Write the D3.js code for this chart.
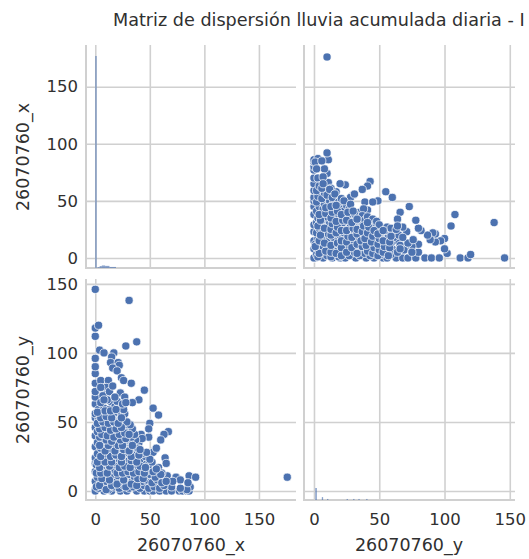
<!DOCTYPE html>
<html><head><meta charset="utf-8">
<script src="https://cdn.jsdelivr.net/npm/d3@7"></script>
<style>html,body{margin:0;padding:0;background:#fff;overflow:hidden}</style>
</head><body><svg id="c" width="529" height="559"></svg>
<script>
const titleText = "Matriz de dispersión lluvia acumulada diaria - I";
const varX = "26070760_x", varY = "26070760_y";
const xTicksA = [0,50,100,150], yTicks = [0,50,100,150];

// x = 0 days: values of y
const zeroXValues = [1,7,14,20,24,32,40,46,53,56,63,68,72,78,85,90,96,112,118,146];
// y = 0 days: values of x
const zeroYValues = [0,8,15,23,29,38,45,50,53,59,65,70,77,80,84,86];
// isolated points [x, y]
const outlierPoints = [[31,138],[3,120],[28,105],[38,108],[4,102],[8,100],[17,100],[15,97],[14,93],[21,93],[22,91],[16,89],[20,87],[24,82],[26,80],[33,78],[5,80],[12,80],[10,75],[45,73],[23,71],[10,70],[27,68],[40,66],[34,64],[15,64],[53,60],[58,55],[50,49],[67,43],[63,41],[42,41],[49,39],[60,37],[40,35],[55,30],[64,24],[65,20],[53,28],[58,17],[66,11],[74,10],[86,11],[92,10],[78,8],[87,3],[176,10],[84,1],[78,2],[70,3],[71,7],[85,6],[61,13],[49,45],[43,38],[56,31]];
// dense cluster [x, y]
const densePoints = [
[3,2],[8,3],[12,1],[17,3],[22,2],[26,4],[31,2],[35,3],[41,2],[45,4],[49,2],[54,3],[59,2],[63,4],[5,6],[10,7],[15,6],[19,8],[24,7],[29,6],[34,8],[38,6],[43,7],[47,8],[52,6],[57,8],[61,6],[65,7],
[2,10],[7,11],[12,10],[17,12],[21,11],[27,10],[31,12],[36,10],[41,12],[46,11],[50,12],[55,10],[60,12],[3,15],[9,14],[14,16],[18,15],[23,14],[28,16],[33,15],[37,14],[42,16],[48,15],[53,14],[56,16],
[1,19],[6,18],[11,20],[16,19],[20,20],[25,18],[30,20],[35,19],[39,18],[44,20],[49,19],[52,21],[4,23],[8,24],[13,22],[18,24],[22,23],[27,24],[31,22],[36,24],[41,23],[46,25],[50,23],[2,27],[7,28],[11,26],[16,28],[21,27],[25,26],[29,28],[34,27],[38,29],[43,27],[47,28],
[5,31],[10,32],[14,30],[19,32],[23,31],[28,33],[32,30],[36,32],[39,31],[2,35],[7,36],[12,35],[17,34],[21,36],[26,35],[30,37],[34,35],[37,37],[4,39],[9,40],[14,38],[19,41],[24,39],[29,40],[33,39],[36,41],
[2,43],[7,44],[12,42],[16,45],[21,43],[26,44],[30,43],[34,45],[5,47],[10,48],[15,47],[19,49],[23,47],[28,48],[32,48],[3,51],[8,52],[13,51],[18,53],[22,51],[26,52],[29,50],[6,55],[11,56],[16,55],[20,57],[24,55],[27,56],[3,59],[8,60],[13,59],[18,61],[22,60],[26,59],[5,64],[11,66],[20,65],[25,63],[7,69],[13,72],[18,68],[28,64],[5,75],[8,66],[16,76],
[1,3],[4,4],[10,1],[15,4],[20,5],[28,3],[33,5],[38,4],[6,9],[13,8],[26,8],[39,9],[44,9],[1,13],[5,13],[11,13],[20,13],[25,13],[30,14],[35,13],[40,14],[45,13],[4,17],[13,18],[22,17],[27,18],[32,17],[41,18],[46,17],[2,21],[9,21],[15,21],[24,21],[33,22],[38,21],[5,25],[14,25],[19,26],[24,25],[33,25],[40,26],[9,29],[18,29],[26,30],[31,29],[41,30],[4,33],[12,33],[21,33],[25,33],[34,33],[10,37],[15,36],[23,37],[28,38],[6,41],[11,40],[17,39],[22,41],[27,42],[31,41],[4,45],[9,46],[14,44],[19,45],[24,46],[2,49],[7,50],[12,49],[17,50],[21,49],[5,53],[10,54],[15,53],[24,53],[2,57],[9,58],[14,58],[19,59]
];
const histXBins = [[0,1.3,1000],[2,4,4],[4,6,9],[6,9,12],[9,13,10],[13,19,5]];
const histYBins = [[1,2.2,58],[6,7,14],[10,11,5],[25,26,5],[30,31,5],[34,35,5],[40,41,5]];

const points = [
  ...zeroXValues.map(y=>[0,y]),
  ...zeroYValues.map(x=>[x,0]),
  ...outlierPoints, ...densePoints
];

const svg = d3.select("#c");
const colW = [[86,296],[304,515]], rowH = [[45,268],[279,500]];
const axisText = "#303030", gridColor = "#d0d0d0", markColor = "#4c72b0";
const font = "'DejaVu Sans',sans-serif";

const xScaleA = d3.scaleLinear().domain([-8.5,184]).range(colW[0]);   // column 1: x
const xScaleB = d3.scaleLinear().domain([-7.65,154]).range(colW[1]);  // column 2: y
const yScaleA = d3.scaleLinear().domain([-8.8,186.5]).range([rowH[0][1],rowH[0][0]]); // row 1: x
const yScaleB = d3.scaleLinear().domain([-6.5,153.5]).range([rowH[1][1],rowH[1][0]]); // row 2: y
const histScaleX = d3.scaleLinear().domain([0,1000]).range([268,56]);
const histScaleY = d3.scaleLinear().domain([0,58]).range([500,488]);

function panel(xs, ys, c, r){
  const g = svg.append("g");
  const [x0,x1]=colW[c], [y0,y1]=rowH[r];
  const gx = g.append("g").attr("transform",`translate(0,${y1})`)
    .call(d3.axisBottom(xs).tickValues(xTicksA).tickSize(-(y1-y0)).tickPadding(r===1?13:0).tickFormat(r===1?d3.format("d"):""));
  const gy = g.append("g").attr("transform",`translate(${x0},0)`)
    .call(d3.axisLeft(ys).tickValues(yTicks).tickSize(-(x1-x0)).tickPadding(14).tickFormat(c===0?d3.format("d"):""));
  [gx,gy].forEach(a=>{
    a.selectAll(".tick line").attr("stroke",gridColor).attr("stroke-width",1.6);
    a.selectAll(".tick text").attr("fill",axisText).attr("font-family",font).attr("font-size",16.5);
    a.select(".domain").remove();
  });
  gy.selectAll(".tick text").attr("x",-6-2);
  gy.selectAll(".tick line").attr("x1",0).attr("x2",x1-x0);
  g.append("line").attr("x1",x0).attr("x2",x0).attr("y1",y0).attr("y2",y1+1).attr("stroke",gridColor).attr("stroke-width",2);
  g.append("line").attr("x1",x0).attr("x2",x1).attr("y1",y1).attr("y2",y1).attr("stroke",gridColor).attr("stroke-width",2);
  return g;
}

panel(xScaleA,yScaleA,0,0).selectAll("rect.h").data(histXBins).join("rect").attr("class","h")
  .attr("x",d=>xScaleA(d[0])).attr("width",d=>xScaleA(d[1])-xScaleA(d[0]))
  .attr("y",d=>histScaleX(d[2])).attr("height",d=>268-histScaleX(d[2]))
  .attr("fill",markColor).attr("fill-opacity",.65);

function scatter(g,xf,yf){
  g.selectAll("circle").data(points).join("circle")
   .attr("cx",xf).attr("cy",yf).attr("r",4.1)
   .attr("fill",markColor).attr("stroke","#fff").attr("stroke-width",.9).attr("stroke-opacity",.8);
}
scatter(panel(xScaleB,yScaleA,1,0), d=>xScaleB(d[1]), d=>yScaleA(d[0]));
scatter(panel(xScaleA,yScaleB,0,1), d=>xScaleA(d[0]), d=>yScaleB(d[1]));

panel(xScaleB,yScaleB,1,1).selectAll("rect.h").data(histYBins).join("rect").attr("class","h")
  .attr("x",d=>xScaleB(d[0])).attr("width",d=>Math.max(1,xScaleB(d[1])-xScaleB(d[0])))
  .attr("y",d=>histScaleY(d[2])).attr("height",d=>500-histScaleY(d[2]))
  .attr("fill",markColor).attr("fill-opacity",.65);

svg.append("text").text(titleText).attr("x",113).attr("y",26)
  .attr("fill",axisText).attr("font-family",font).attr("font-size",17.6);
[[191,varX],[409,varY]].forEach(([x,t])=>svg.append("text").text(t).attr("x",x).attr("y",551).attr("text-anchor","middle")
  .attr("fill",axisText).attr("font-family",font).attr("font-size",17.5));
[[157,varX],[390,varY]].forEach(([y,t])=>svg.append("text").text(t).attr("transform",`translate(29,${y}) rotate(-90)`).attr("text-anchor","middle")
  .attr("fill",axisText).attr("font-family",font).attr("font-size",17.5));
</script></body></html>
